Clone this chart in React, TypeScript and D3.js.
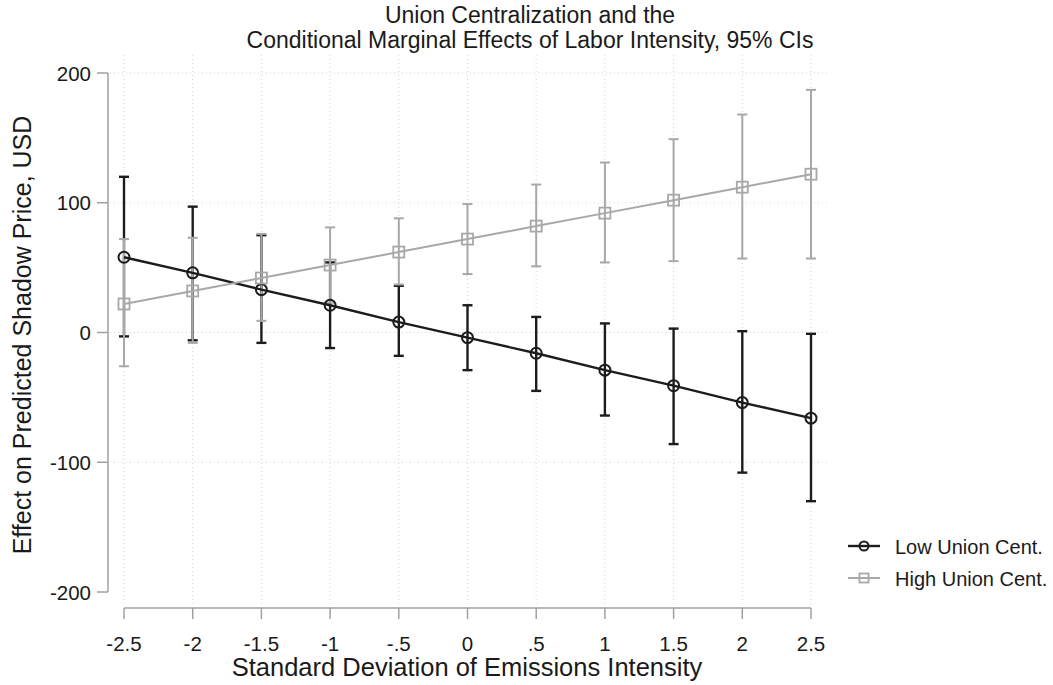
import * as d3 from "d3";

const xValues = [-2.5, -2, -1.5, -1, -0.5, 0, 0.5, 1, 1.5, 2, 2.5];
const xTickLabels = ["-2.5", "-2", "-1.5", "-1", "-.5", "0", ".5", "1", "1.5", "2", "2.5"];
const yTicks = [-200, -100, 0, 100, 200];

// Low union centralization
const lowEst = [58, 46, 33, 21, 8, -4, -16, -29, -41, -54, -66];
const lowLo = [-3, -6, -8, -12, -18, -29, -45, -64, -86, -108, -130];
const lowHi = [120, 97, 75, 54, 36, 21, 12, 7, 3, 1, -1];

// High union centralization
const highEst = [22, 32, 42, 52, 62, 72, 82, 92, 102, 112, 122];
const highLo = [-26, -8, 9, 23, 37, 45, 51, 54, 55, 57, 57];
const highHi = [72, 73, 76, 81, 88, 99, 114, 131, 149, 168, 187];

const legendLabels = ["Low Union Cent.", "High Union Cent."];

const W = 1053;
const H = 685;

const x = d3.scaleLinear().domain([-2.5, 2.5]).range([124, 811]);
const y = d3.scaleLinear().domain([-200, 200]).range([592, 73]);

const font = "'Liberation Sans', Arial, sans-serif";
const lowColor = "#1c1c1c";
const highColor = "#a8a8a8";
const axisColor = "#a0a0a0";
const textColor = "#1a1a1a";

type Series = { est: number[]; lo: number[]; hi: number[]; color: string; width: number; marker: "circle" | "square" };

const series: Series[] = [
  { est: lowEst, lo: lowLo, hi: lowHi, color: lowColor, width: 2.4, marker: "circle" },
  { est: highEst, lo: highLo, hi: highHi, color: highColor, width: 2, marker: "square" },
];

const Marker = ({ cx, cy, s, size }: { cx: number; cy: number; s: Series; size: number }) =>
  s.marker === "circle" ? (
    <circle cx={cx} cy={cy} r={size} fill="none" stroke={s.color} strokeWidth={2} />
  ) : (
    <rect x={cx - size} y={cy - size} width={size * 2} height={size * 2} fill="none" stroke={s.color} strokeWidth={1.8} />
  );

export default function App() {
  const line = d3
    .line<number>()
    .x((_, i) => x(xValues[i]))
    .y((d) => y(d));

  return (
    <svg width={W} height={H} style={{ position: "absolute", left: 0, top: 0 }}>
      <rect width={W} height={H} fill="#fff" />
      {/* title */}
      <text x={530} y={23} textAnchor="middle" fontFamily={font} fontSize={23} fill={textColor}>
        Union Centralization and the
      </text>
      <text x={530} y={48} textAnchor="middle" fontFamily={font} fontSize={23} fill={textColor}>
        Conditional Marginal Effects of Labor Intensity, 95% CIs
      </text>

      {/* grid */}
      {yTicks
        .filter((t) => t > -200)
        .map((t) => (
          <line key={"gy" + t} x1={110} x2={830} y1={y(t)} y2={y(t)} stroke="#d4d4d4" strokeWidth={1} strokeDasharray="1,3" />
        ))}
      {xValues.map((v) => (
        <line key={"gx" + v} x1={x(v)} x2={x(v)} y1={55} y2={606} stroke="#d4d4d4" strokeWidth={1} strokeDasharray="1,3" />
      ))}

      {/* y axis */}
      <line x1={108} x2={108} y1={y(200)} y2={y(-200)} stroke={axisColor} strokeWidth={1.5} />
      {yTicks.map((t) => (
        <g key={"yt" + t}>
          <line x1={97} x2={108} y1={y(t)} y2={y(t)} stroke={axisColor} strokeWidth={1.5} />
          <text x={91} y={y(t) + 7.5} textAnchor="end" fontFamily={font} fontSize={20.5} fill={textColor}>
            {t}
          </text>
        </g>
      ))}
      <text
        transform={`translate(31,335) rotate(-90)`}
        textAnchor="middle"
        fontFamily={font}
        fontSize={25}
        fill={textColor}
      >
        Effect on Predicted Shadow Price, USD
      </text>

      {/* x axis */}
      <line x1={x(-2.5)} x2={x(2.5)} y1={608} y2={608} stroke={axisColor} strokeWidth={1.5} />
      {xValues.map((v, i) => (
        <g key={"xt" + v}>
          <line x1={x(v)} x2={x(v)} y1={608} y2={619} stroke={axisColor} strokeWidth={1.5} />
          <text x={x(v)} y={651} textAnchor="middle" fontFamily={font} fontSize={20.5} fill={textColor}>
            {xTickLabels[i]}
          </text>
        </g>
      ))}
      <text x={467} y={676} textAnchor="middle" fontFamily={font} fontSize={25.5} fill={textColor}>
        Standard Deviation of Emissions Intensity
      </text>

      {/* confidence intervals */}
      {series.map((s, si) => (
        <g key={"ci" + si} stroke={s.color} strokeWidth={s.width}>
          {xValues.map((v, i) => (
            <g key={i}>
              <line x1={x(v)} x2={x(v)} y1={y(s.lo[i])} y2={y(s.hi[i])} />
              <line x1={x(v) - 5} x2={x(v) + 5} y1={y(s.lo[i])} y2={y(s.lo[i])} />
              <line x1={x(v) - 5} x2={x(v) + 5} y1={y(s.hi[i])} y2={y(s.hi[i])} />
            </g>
          ))}
        </g>
      ))}

      {/* lines and markers */}
      {series.map((s, si) => (
        <g key={"ln" + si}>
          <path d={line(s.est) ?? ""} fill="none" stroke={s.color} strokeWidth={s.width} />
          {xValues.map((v, i) => (
            <Marker key={i} cx={x(v)} cy={y(s.est[i])} s={s} size={5.5} />
          ))}
        </g>
      ))}

      {/* legend */}
      {series.map((s, si) => {
        const ly = 546 + si * 32;
        return (
          <g key={"lg" + si}>
            <line x1={848} x2={880} y1={ly} y2={ly} stroke={s.color} strokeWidth={s.width} />
            <Marker cx={864} cy={ly} s={s} size={4.5} />
            <text x={895} y={ly + 8} fontFamily={font} fontSize={20} fill={textColor}>
              {legendLabels[si]}
            </text>
          </g>
        );
      })}
    </svg>
  );
}
